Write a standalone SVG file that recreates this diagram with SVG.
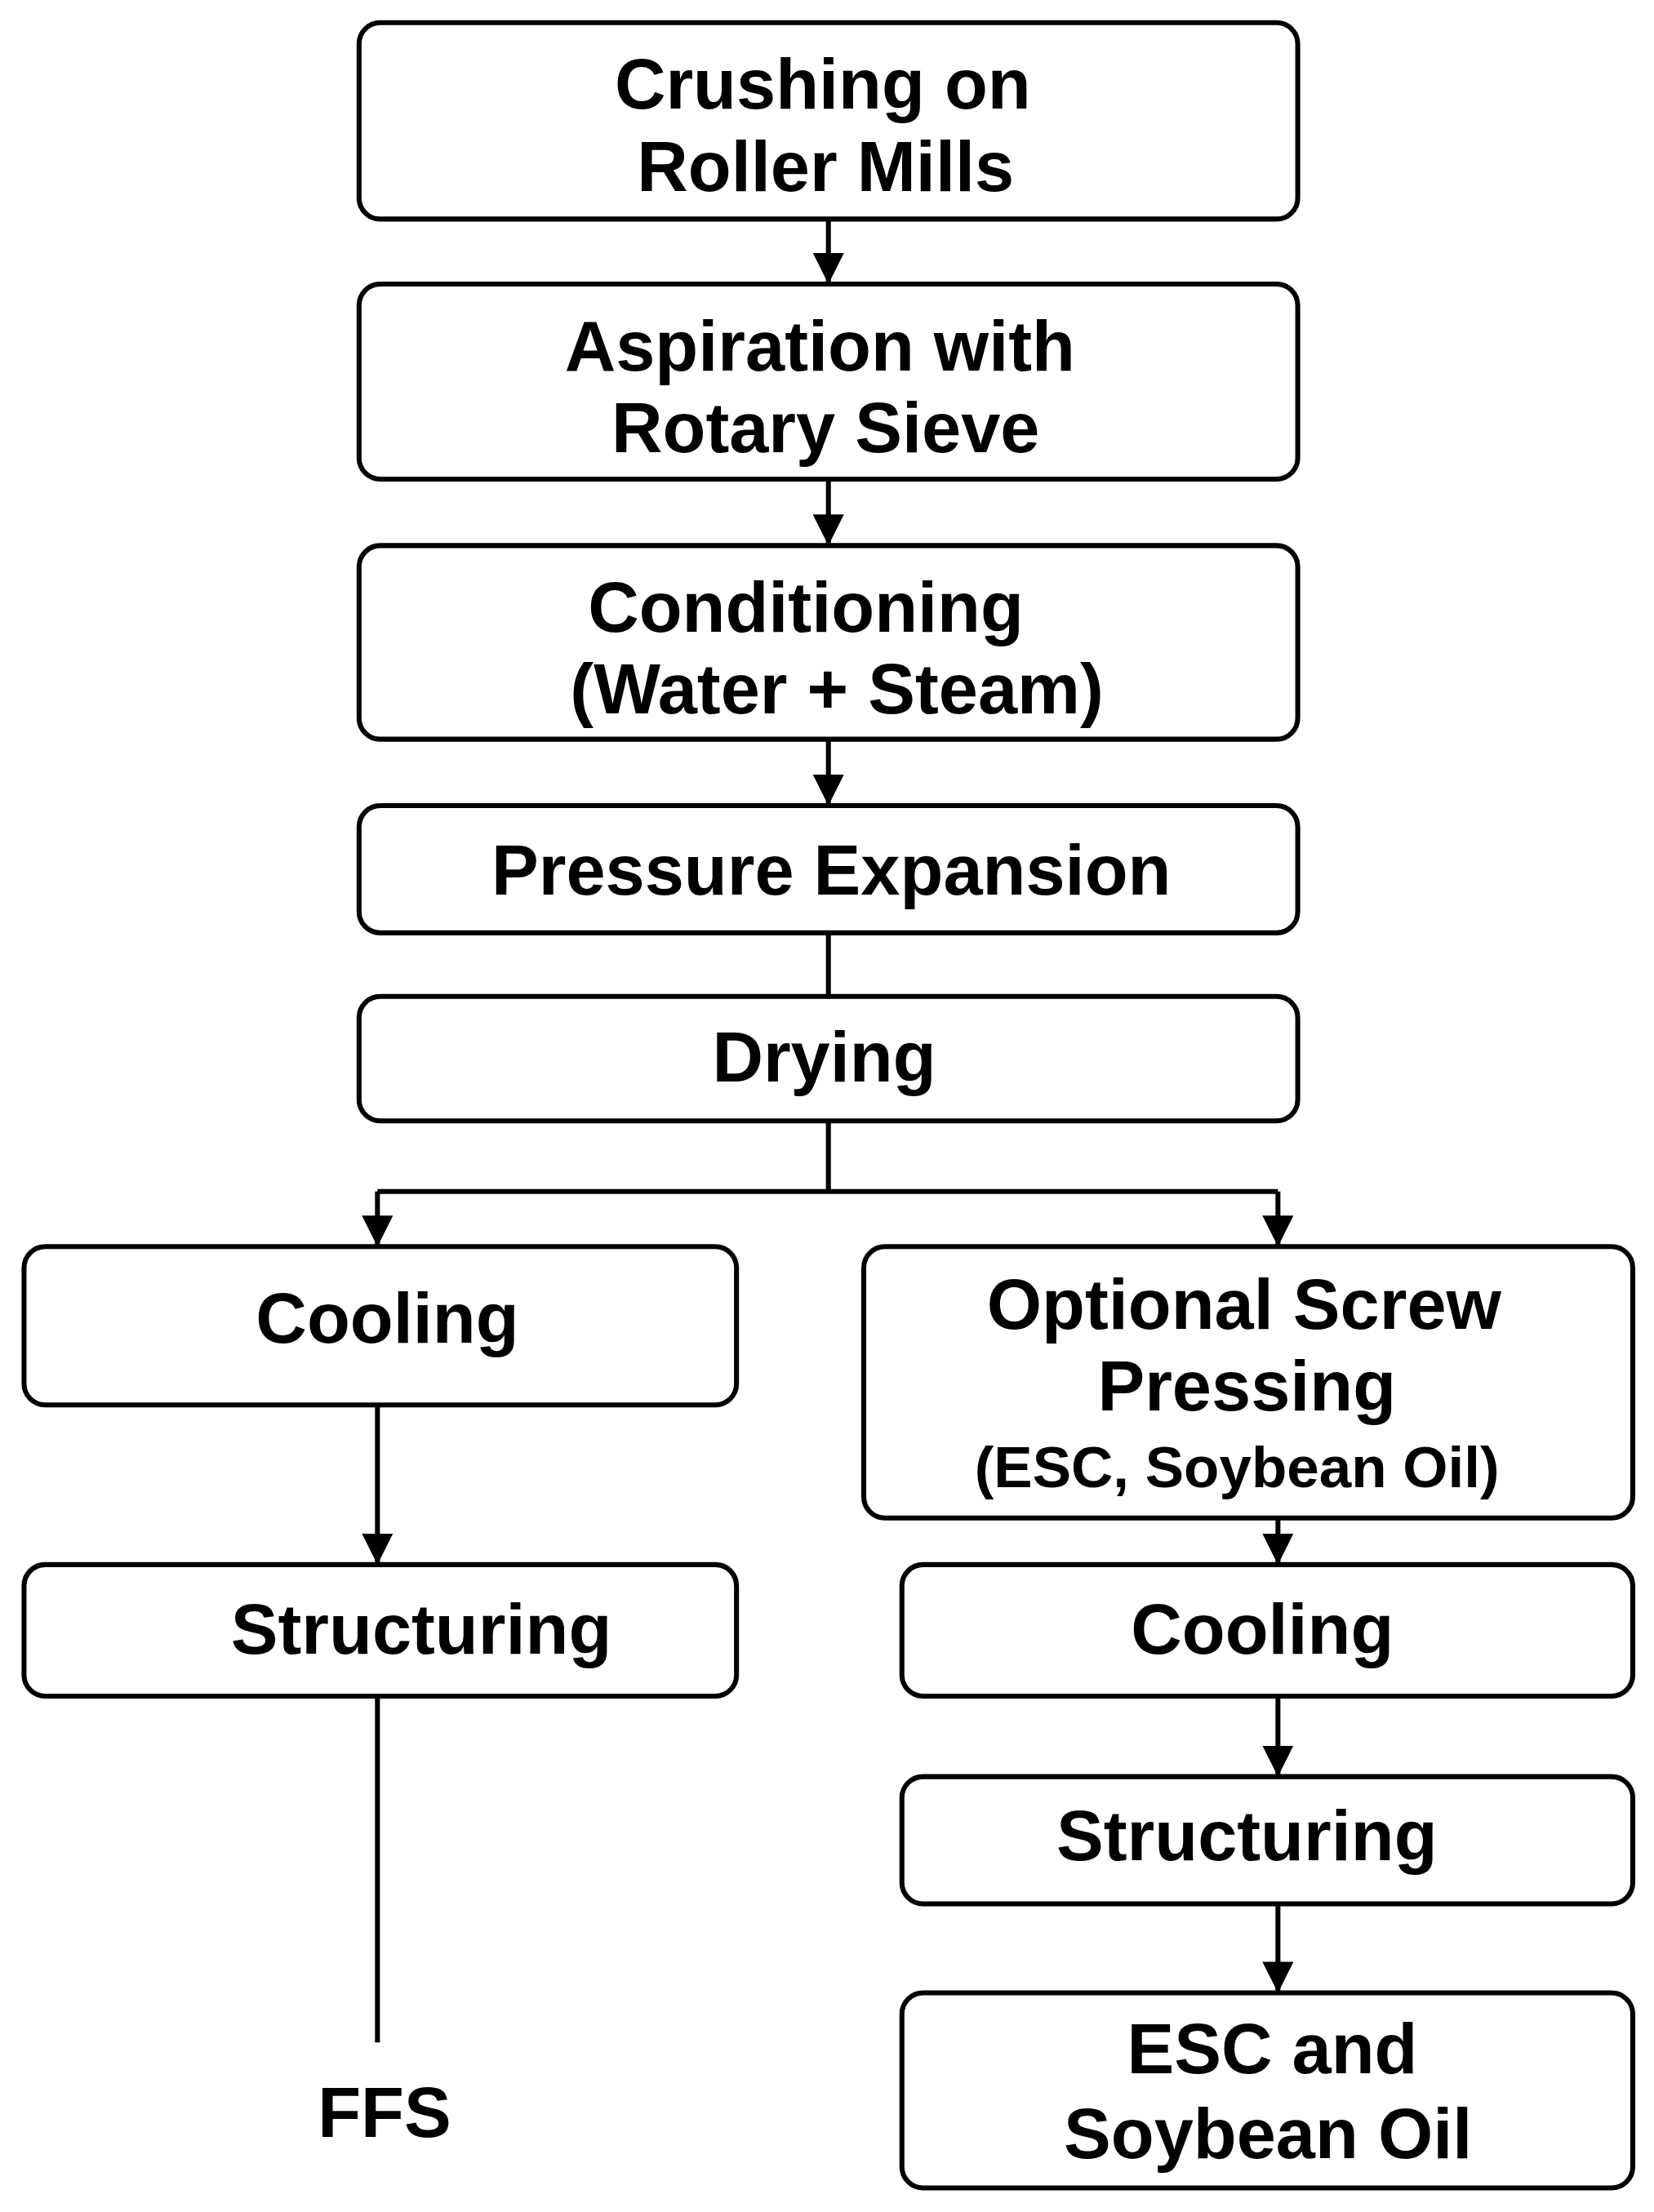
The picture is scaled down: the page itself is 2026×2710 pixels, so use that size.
<svg xmlns="http://www.w3.org/2000/svg" width="2026" height="2710" viewBox="0 0 2026 2710">
<style>
.b{fill:#fff;stroke:#000;stroke-width:3.5}
.t{font-family:"Liberation Sans",Arial,sans-serif;font-weight:bold;font-size:50px;text-anchor:middle;fill:#000}
.s{font-size:41px}
.c{fill:none;stroke:#000;stroke-width:3.5}
</style>
<defs><marker id="a" markerWidth="8" markerHeight="8" refX="7" refY="4" orient="auto" markerUnits="userSpaceOnUse" viewBox="0 0 8 8"><path d="M0,0L8,4L0,8z" fill="#000"/></marker>
<marker id="ah" viewBox="0 0 10 10" refX="10" refY="5" markerWidth="22" markerHeight="22" markerUnits="userSpaceOnUse" orient="auto"><path d="M0,0L10,5L0,10z" fill="#000"/></marker></defs>
<rect width="2026" height="2710" fill="#fff"/>
<g transform="scale(1.7316)">
<g id="connectors">
<path class="c" d="M586,155V201" marker-end="url(#ah)"/>
<path class="c" d="M586,339V386" marker-end="url(#ah)"/>
<path class="c" d="M586,523V570" marker-end="url(#ah)"/>
<path class="c" d="M586,660V705"/>
<path class="c" d="M586,793V843M267,843H904"/>
<path class="c" d="M267,843V882" marker-end="url(#ah)"/>
<path class="c" d="M904,843V882" marker-end="url(#ah)"/>
<path class="c" d="M267,994V1107" marker-end="url(#ah)"/>
<path class="c" d="M267,1200V1445"/>
<path class="c" d="M904,1074V1107" marker-end="url(#ah)"/>
<path class="c" d="M904,1200V1257" marker-end="url(#ah)"/>
<path class="c" d="M904,1347V1410" marker-end="url(#ah)"/>
</g>
<g id="n1"><rect class="b" x="254" y="16" width="664" height="139" rx="15"/><text class="t" x="582" y="77">Crushing on</text><text class="t" x="584" y="135">Roller Mills</text></g>
<g id="n2"><rect class="b" x="254" y="201" width="664" height="138" rx="15"/><text class="t" x="580" y="262">Aspiration with</text><text class="t" x="584" y="320">Rotary Sieve</text></g>
<g id="n3"><rect class="b" x="254" y="386" width="664" height="137" rx="15"/><text class="t" x="570" y="447">Conditioning</text><text class="t" x="592" y="505">(Water + Steam)</text></g>
<g id="n4"><rect class="b" x="254" y="570" width="664" height="90" rx="15"/><text class="t" x="588" y="633">Pressure Expansion</text></g>
<g id="n5"><rect class="b" x="254" y="705" width="664" height="88" rx="15"/><text class="t" x="583" y="765">Drying</text></g>
<g id="n6"><rect class="b" x="17" y="882" width="504" height="112" rx="15"/><text class="t" x="274" y="950">Cooling</text></g>
<g id="n7"><rect class="b" x="611" y="882" width="544" height="192" rx="15"/><text class="t" x="880" y="940">Optional Screw</text><text class="t" x="882" y="998">Pressing</text><text class="t s" x="875" y="1052">(ESC, Soybean Oil)</text></g>
<g id="n8"><rect class="b" x="17" y="1107" width="504" height="93" rx="15"/><text class="t" x="298" y="1170">Structuring</text></g>
<g id="n9"><rect class="b" x="638" y="1107" width="517" height="93" rx="15"/><text class="t" x="893" y="1170">Cooling</text></g>
<g id="n10"><rect class="b" x="638" y="1257" width="517" height="90" rx="15"/><text class="t" x="882" y="1316">Structuring</text></g>
<g id="n11"><rect class="b" x="638" y="1410" width="517" height="138" rx="15"/><text class="t" x="900" y="1467">ESC and</text><text class="t" x="897" y="1527">Soybean Oil</text></g>
<g id="n12"><text class="t" x="272" y="1512">FFS</text></g>
</g>
</svg>
